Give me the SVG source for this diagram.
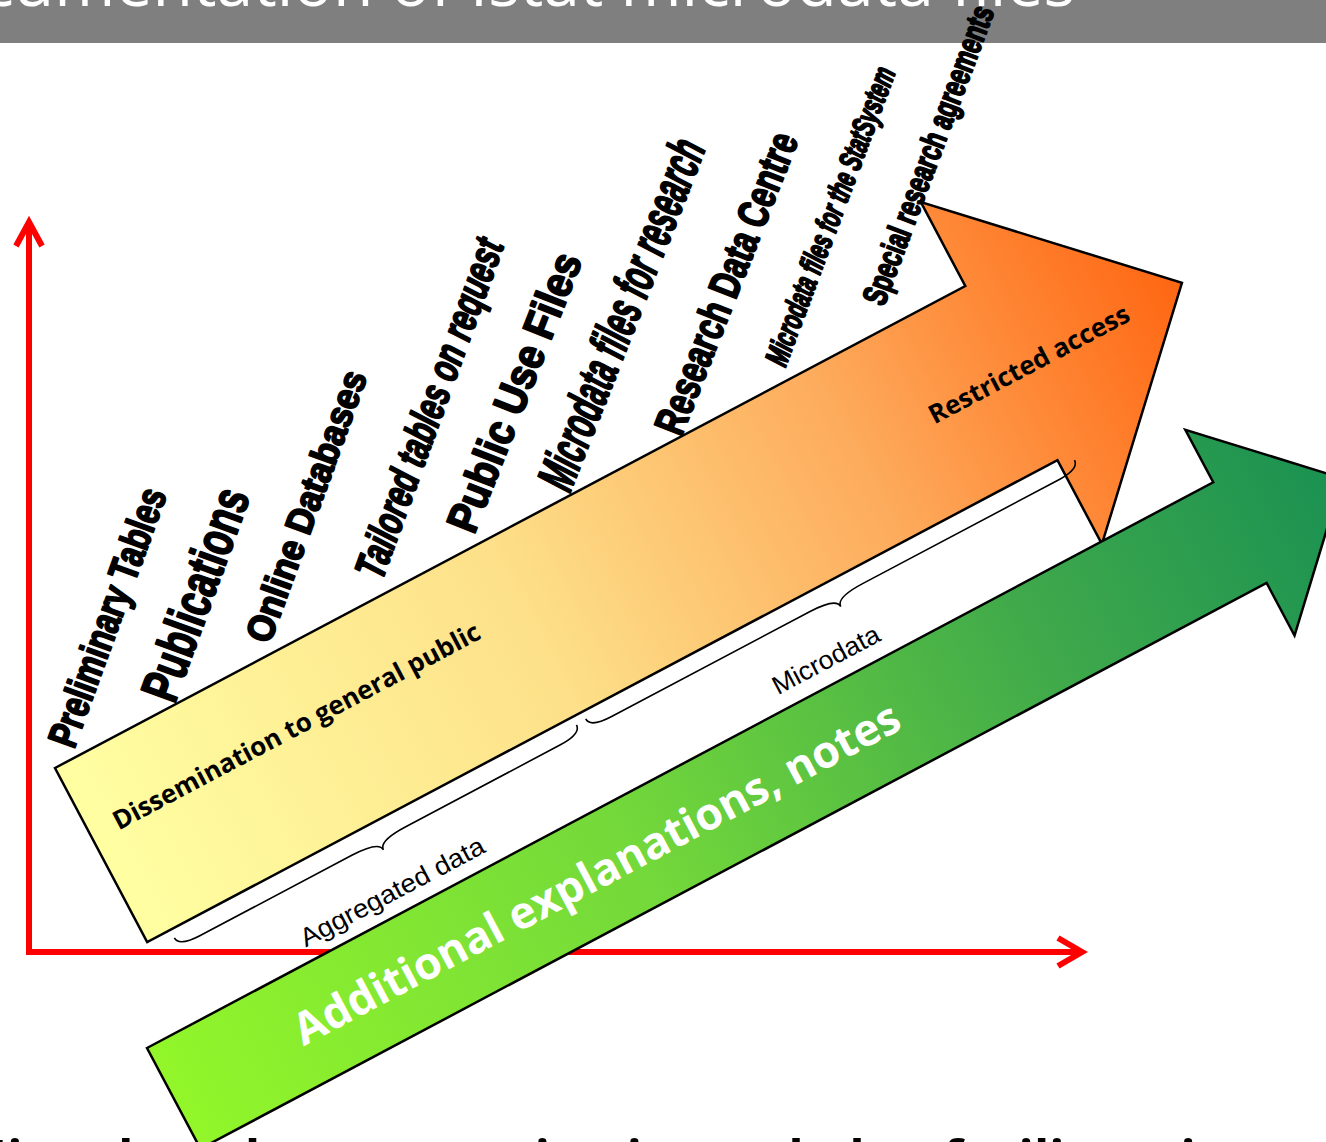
<svg xmlns="http://www.w3.org/2000/svg" width="1326" height="1142" viewBox="0 0 1326 1142">
  <defs>
    <linearGradient id="gOrange" gradientUnits="userSpaceOnUse" x1="0" y1="0" x2="1223" y2="0">
      <stop offset="0" stop-color="#ffffa2"/>
      <stop offset="0.4" stop-color="#fde089"/>
      <stop offset="0.7" stop-color="#fdab5c"/>
      <stop offset="1" stop-color="#ff6612"/>
    </linearGradient>
    <linearGradient id="gGreen" gradientUnits="userSpaceOnUse" x1="0" y1="0" x2="1323" y2="0">
      <stop offset="0" stop-color="#92f62a"/>
      <stop offset="0.4" stop-color="#73d83a"/>
      <stop offset="0.75" stop-color="#3ea84b"/>
      <stop offset="1" stop-color="#1a9152"/>
    </linearGradient>
    <style>
      .axis { stroke:#ff0000; stroke-width:6; fill:none; stroke-linejoin:miter; }
      .arrow { stroke:#000; stroke-width:2.5; stroke-linejoin:miter; }
      .brace { fill:none; stroke:#000; stroke-width:1.6; }
      .lbl { font-family:"Liberation Sans", Arial, sans-serif; font-weight:bold; fill:#000; stroke:#000; stroke-width:2; stroke-linejoin:round; text-anchor:middle; }
      .inner { font-family:"Open Sans", "Liberation Sans", sans-serif; font-weight:bold; }
      .thin { font-family:"Liberation Sans", Arial, sans-serif; font-size:26px; fill:#000; text-anchor:middle; }
    </style>
  </defs>

  <rect id="header" x="0" y="0" width="1326" height="43" fill="#7f7f7f"/>
  <text x="1075" y="6" text-anchor="end" font-family="Open Sans, Liberation Sans, sans-serif" font-size="66" fill="#ffffff">Documentation of Istat microdata files</text>

  <g id="axes">
    <line class="axis" x1="29" y1="955" x2="29" y2="223"/>
    <polyline class="axis" points="16,246 29,222 42,246"/>
    <line class="axis" x1="26" y1="952" x2="1082" y2="952"/>
    <polyline class="axis" points="1058,938 1082,952 1058,966"/>
  </g>

  <g id="restricted-arrow" transform="translate(55,768) rotate(-27.9)">
    <polygon class="arrow" points="0,0 1030,0 1030,-95 1223,98.5 1030,292 1030,197 0,197" fill="url(#gOrange)"/>
    <text class="inner" x="27" y="85" font-size="26" fill="#000">Dissemination to general public</text>
    <text class="inner" x="938" y="108" font-size="26" fill="#000">Restricted access</text>
  </g>

  <g id="connectors" transform="translate(55,768) rotate(-27.9)">
    <path class="brace" d="M26,206 C26,213 34,216 50,216 L222,216 C242,216 252,219 252,226 C252,219 262,216 282,216 L457,216 C473,216 481,213 481,206"/>
    <path class="brace" d="M492,205 C492,212 500,215 516,215 L740,215 C760,215 770,218 770,225 C770,218 780,215 800,215 L1021,215 C1037,215 1045,212 1045,205"/>
    <text class="thin" x="240" y="276" textLength="205" lengthAdjust="spacingAndGlyphs">Aggregated data</text>
    <text class="thin" x="732" y="274" textLength="118" lengthAdjust="spacingAndGlyphs">Microdata</text>
  </g>

  <g id="notes-arrow" transform="translate(147,1048) rotate(-27.95)">
    <polygon class="arrow" points="0,0 1207,0 1207,-59.5 1323,57 1207,173.5 1207,114 0,114" fill="url(#gGreen)"/>
    <text class="inner" x="139" y="72" font-size="44.5" fill="#ffffff">Additional explanations, notes</text>
  </g>

  <g id="labels">
    <text class="lbl" font-size="41" transform="translate(107,617) rotate(-70)" dy="0.35em" textLength="272" lengthAdjust="spacingAndGlyphs">Preliminary Tables</text>
    <text class="lbl" font-size="53" transform="translate(195,594) rotate(-70)" dy="0.35em" textLength="222" lengthAdjust="spacingAndGlyphs">Publications</text>
    <text class="lbl" font-size="38" transform="translate(306,506) rotate(-70)" dy="0.35em" textLength="286" lengthAdjust="spacingAndGlyphs">Online Databases</text>
    <text class="lbl" font-size="43" font-style="italic" transform="translate(429,408) rotate(-70)" dy="0.35em" textLength="358" lengthAdjust="spacingAndGlyphs">Tailored tables on request</text>
    <text class="lbl" font-size="44" transform="translate(514,392) rotate(-68.5)" dy="0.35em" textLength="296" lengthAdjust="spacingAndGlyphs">Public Use Files</text>
    <text class="lbl" font-size="52" font-style="italic" transform="translate(621,314) rotate(-68.5)" dy="0.35em" textLength="372" lengthAdjust="spacingAndGlyphs">Microdata files for research</text>
    <text class="lbl" font-size="43" transform="translate(726,283) rotate(-68.5)" dy="0.35em" textLength="320" lengthAdjust="spacingAndGlyphs">Research Data Centre</text>
    <text class="lbl" font-size="32" font-style="italic" transform="translate(830,216) rotate(-69.5)" dy="0.35em" textLength="316" lengthAdjust="spacingAndGlyphs">Microdata files for the StatSystem</text>
    <text class="lbl" font-size="34" transform="translate(928,155) rotate(-69.5)" dy="0.35em" textLength="316" lengthAdjust="spacingAndGlyphs">Special research agreements</text>
  </g>

  <text x="-40" y="1176" font-family="Open Sans, Liberation Sans, sans-serif" font-weight="bold" font-size="50" fill="#000">Microdata documentation is needed to facilitate it</text>
</svg>
